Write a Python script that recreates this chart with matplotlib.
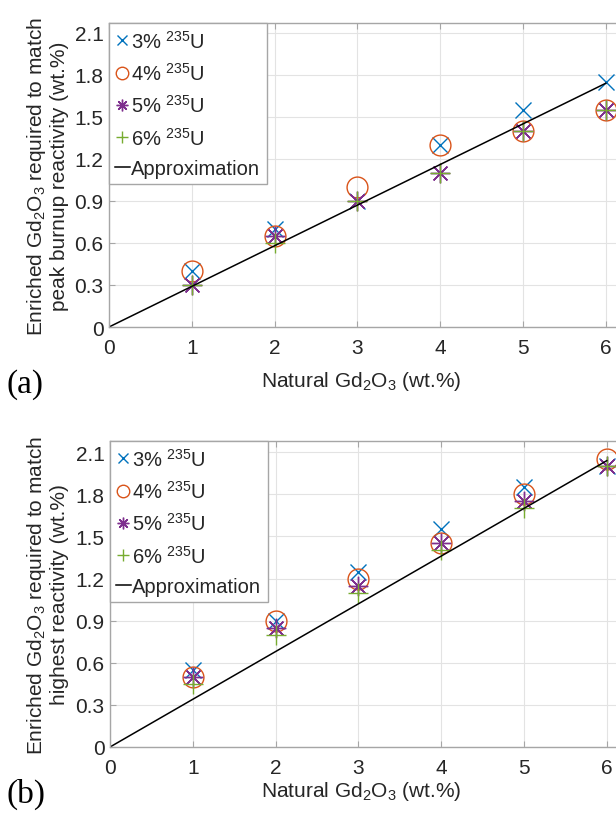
import matplotlib
matplotlib.use("Agg")
import matplotlib.pyplot as plt

plt.rcParams['font.family'] = ['Liberation Sans', 'DejaVu Sans']
plt.rcParams['mathtext.fontset'] = 'custom'
plt.rcParams['mathtext.rm'] = 'Liberation Sans'
plt.rcParams['mathtext.it'] = 'Liberation Sans'
plt.rcParams['mathtext.bf'] = 'Liberation Sans'

# ---------------- data ----------------
natural_gd = [1, 2, 3, 4, 5, 6]
series_labels = ["3% $^{235}$U", "4% $^{235}$U", "5% $^{235}$U", "6% $^{235}$U"]

peak_3 = [0.40, 0.70, 0.90, 1.30, 1.55, 1.75]
peak_4 = [0.40, 0.65, 1.00, 1.30, 1.40, 1.55]
peak_5 = [0.30, 0.65, 0.90, 1.10, 1.40, 1.55]
peak_6 = [0.30, 0.60, 0.90, 1.10, 1.40, 1.55]
approx_x = [0, 6]
approx_peak = [0, 1.74]

high_3 = [0.55, 0.90, 1.25, 1.55, 1.85, 2.00]
high_4 = [0.50, 0.90, 1.20, 1.45, 1.80, 2.05]
high_5 = [0.50, 0.85, 1.15, 1.45, 1.75, 2.00]
high_6 = [0.45, 0.80, 1.10, 1.40, 1.70, 2.00]
approx_high = [0, 2.04]

y_ticks = [0, 0.3, 0.6, 0.9, 1.2, 1.5, 1.8, 2.1]
y_ticklabels = ["0", "0.3", "0.6", "0.9", "1.2", "1.5", "1.8", "2.1"]
x_ticks = [0, 1, 2, 3, 4, 5, 6]
x_ticklabels = ["0", "1", "2", "3", "4", "5", "6"]

colors = ["#0072BD", "#D95319", "#7E2F8E", "#77AC30"]
markers = ["x", "o", (8, 2, 0), "+"]
msizes = [12, 15, 14, 15]

W, H = 616, 820
fig = plt.figure(figsize=(W / 100, H / 100), dpi=100)

text_col = "#262626"
XMAX = 7
px_per_x = 82.8


def make_panel(left_px, top_px, bottom_px, ymax, series, approx_y, ylabel_lines,
               tag, label_baseline_px):
    ax = fig.add_axes([left_px / W, 1 - bottom_px / H,
                       XMAX * px_per_x / W, (bottom_px - top_px) / H])
    ax.set_xlim(0, XMAX)
    ax.set_ylim(0, ymax)
    ax.grid(True, color="#e3e3e3", linewidth=0.8)
    ax.set_axisbelow(True)
    for s in ax.spines.values():
        s.set_color("#a6a6a6")
        s.set_linewidth(1.0)
    ax.set_xticks(x_ticks)
    ax.set_xticklabels(x_ticklabels)
    ax.set_yticks(y_ticks)
    ax.set_yticklabels(y_ticklabels)
    ax.tick_params(direction="in", length=4, color="#a6a6a6", labelsize=15,
                   labelcolor=text_col, top=True, right=True)
    ax.tick_params(axis="x", pad=8)
    ax.tick_params(axis="y", pad=4)

    for yv, lab, c, m, ms in zip(series, series_labels, colors, markers, msizes):
        ax.plot(natural_gd, yv, linestyle="none", marker=m, markersize=ms,
                markerfacecolor="none", markeredgecolor=c, markeredgewidth=1.0,
                label=lab, clip_on=False)
    ax.plot(approx_x, approx_y, color="black", linewidth=1.1, label="Approximation")

    leg = ax.legend(loc="upper left", bbox_to_anchor=(0, 1), borderaxespad=0,
                    fontsize=14.5, handlelength=0.7, handletextpad=0.08,
                    labelspacing=0.52, borderpad=0.32, markerscale=0.6,
                    fancybox=False, framealpha=1, edgecolor="#a6a6a6")
    leg.get_frame().set_linewidth(1.0)
    for t in leg.get_texts():
        t.set_color(text_col)

    ycen = (top_px + bottom_px) / 2
    fig.text(47 / W, 1 - ycen / H, ylabel_lines, rotation=90, ha="center",
             va="center", fontsize=15, color=text_col, linespacing=1.1,
             multialignment="center")
    fig.text(361 / W, 1 - label_baseline_px / H, "Natural Gd$_2$O$_3$ (wt.%)",
             ha="center", va="baseline", fontsize=15, color=text_col)
    fig.text(6 / W, 1 - (label_baseline_px + 6) / H, tag, ha="left",
             va="baseline", fontsize=24, family="Liberation Serif", color="black")
    return ax


make_panel(109, 24, 328, 2.17, [peak_3, peak_4, peak_5, peak_6], approx_peak,
           "Enriched Gd$_2$O$_3$ required to match\npeak burnup reactivity (wt.%)",
           "(a)", 387)
make_panel(110, 442, 748, 2.18, [high_3, high_4, high_5, high_6], approx_high,
           "Enriched Gd$_2$O$_3$ required to match\nhighest reactivity (wt.%)",
           "(b)", 797)

fig.savefig("out.png", dpi=100)
